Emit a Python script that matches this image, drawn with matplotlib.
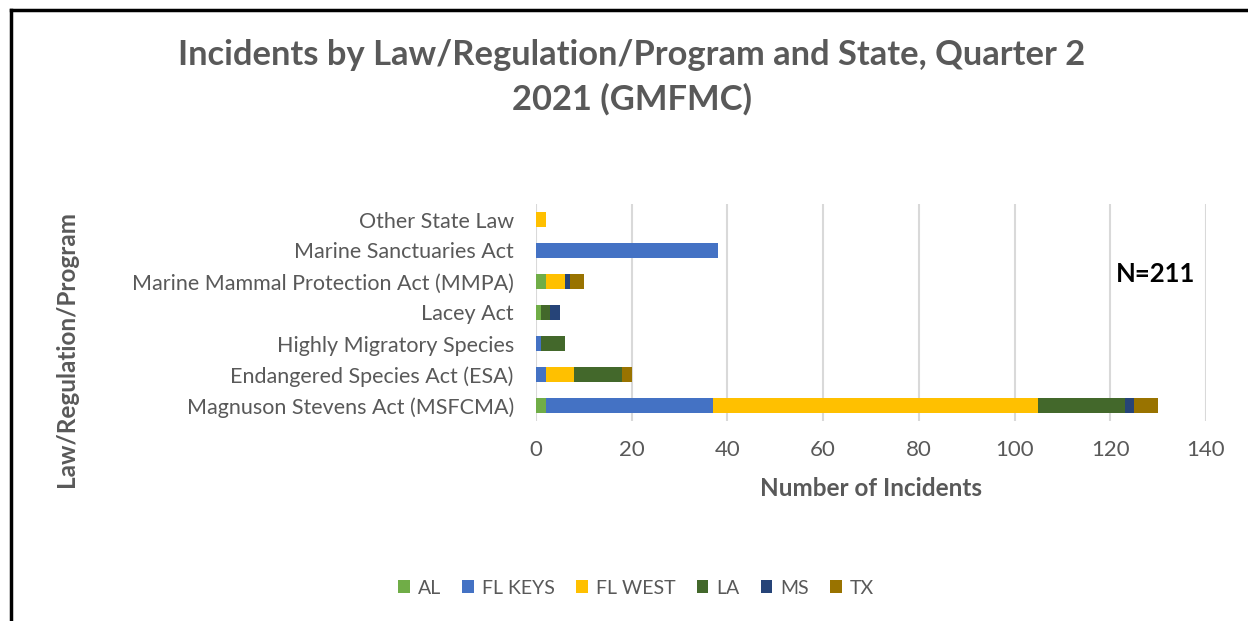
import matplotlib
matplotlib.use('agg')
import matplotlib.pyplot as plt
import numpy as np

plt.rcParams['font.family'] = ['Lato', 'DejaVu Sans']

# categories bottom -> top
laws = ["Magnuson Stevens Act (MSFCMA)", "Endangered Species Act (ESA)",
        "Highly Migratory Species", "Lacey Act",
        "Marine Mammal Protection Act (MMPA)", "Marine Sanctuaries Act",
        "Other State Law"]
states = ["AL", "FL KEYS", "FL WEST", "LA", "MS", "TX"]
colors = ["#70ad47", "#4472c4", "#ffc000", "#43682b", "#264478", "#997300"]

al = [2, 0, 0, 1, 2, 0, 0]
fl_keys = [35, 2, 1, 0, 0, 38, 0]
fl_west = [68, 6, 0, 0, 4, 0, 2]
la = [18, 10, 5, 2, 0, 0, 0]
ms = [2, 0, 0, 2, 1, 0, 0]
tx = [5, 2, 0, 0, 3, 0, 0]
series = [al, fl_keys, fl_west, la, ms, tx]

grey = "#595959"
fig = plt.figure(figsize=(12.48, 6.21), dpi=100)
ax = fig.add_axes([536 / 1248, 1 - 421 / 621, 670 / 1248, 217 / 621])

y = np.arange(len(laws))
left = np.zeros(len(laws))
for name, vals, c in zip(states, series, colors):
    ax.barh(y, vals, left=left, height=0.5, color=c, label=name, zorder=3)
    left += np.array(vals)

ax.set_xlim(0, 140)
ax.set_ylim(-0.5, len(laws) - 0.5)
ax.set_xticks(range(0, 141, 20))
ax.set_yticks(y)
ax.set_yticklabels(laws)
ax.tick_params(axis='both', length=0, labelsize=15.5, labelcolor=grey)
ax.tick_params(axis='x', pad=14, labelsize=16)
ax.tick_params(axis='y', pad=16)
ax.grid(axis='x', color="#d9d9d9", lw=1.5, zorder=0)
for s in ax.spines.values():
    s.set_visible(False)

ax.set_xlabel("Number of Incidents", fontsize=17.5, fontweight='bold', color=grey, labelpad=12)
fig.text(67 / 1248, 1 - 349 / 621, "Law/Regulation/Program", rotation=90,
         ha='center', va='center', fontsize=17.5, fontweight='bold', color=grey)

fig.text(632 / 1248, 1 - 77 / 621,
         "Incidents by Law/Regulation/Program and State, Quarter 2\n2021 (GMFMC)",
         ha='center', va='center', fontsize=24.8, fontweight='bold', color=grey,
         linespacing=1.45)

ax.text(1156 / 1248, 1 - 274 / 621, "N=211", transform=fig.transFigure,
        ha='center', va='center', fontsize=18.5, fontweight='bold', color='black')

fig.legend(loc='center', bbox_to_anchor=(636 / 1248, 1 - 588 / 621), ncol=6,
           frameon=False, fontsize=14, labelcolor=grey, handlelength=0.6,
           handleheight=0.6, handletextpad=0.4, columnspacing=1.1)

# border (top and left visible)
fig.add_artist(plt.Line2D([11 / 1248, 1], [1 - 10 / 621, 1 - 10 / 621],
                          transform=fig.transFigure, color='black', lw=2.5))
fig.add_artist(plt.Line2D([11 / 1248, 11 / 1248], [0, 1 - 10 / 621],
                          transform=fig.transFigure, color='black', lw=2.5))

fig.savefig("out.png", dpi=100)
